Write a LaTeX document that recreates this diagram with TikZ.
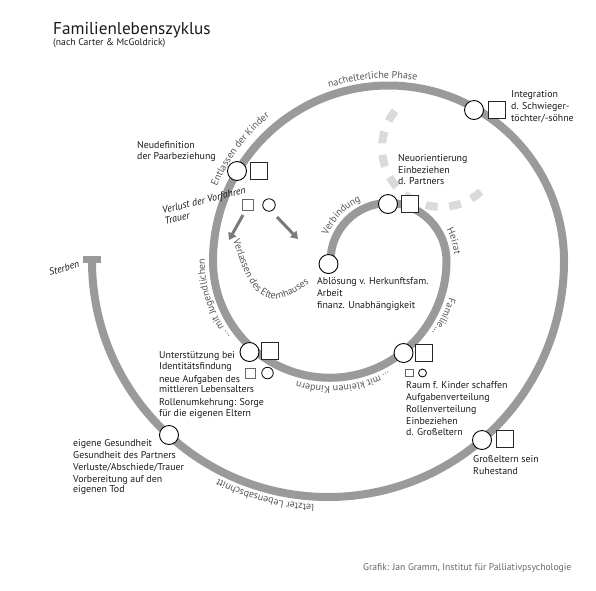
\documentclass[tikz,border=0pt]{standalone}
\usepackage{fontspec}
\setmainfont{PT Sans}
\usetikzlibrary{decorations.text,arrows.meta}
\definecolor{spiralc}{HTML}{9A9A9A}
\definecolor{dashc}{HTML}{DADADA}
\definecolor{lblc}{HTML}{555555}
\definecolor{txtc}{HTML}{1A1A1A}
\definecolor{arrc}{HTML}{7A7A7A}
\definecolor{creditc}{HTML}{666666}
\begin{document}
\begin{tikzpicture}[x=1pt,y=-1pt,
  band/.style={draw=spiralc,line width=8pt},
  dashband/.style={draw=dashc,line width=8pt,dash pattern=on 12pt off 11.5pt},
  bigc/.style={circle,draw=black,fill=white,line width=0.9pt,minimum size=19pt,inner sep=0pt},
  bigs/.style={rectangle,draw=black!85,fill=white,line width=0.9pt,minimum size=17pt,inner sep=0pt},
  smallc/.style={circle,draw=black,fill=white,line width=0.8pt,minimum size=#1,inner sep=0pt},
  smalls/.style={rectangle,draw=black!60,fill=white,line width=0.8pt,minimum size=#1,inner sep=0pt},
  info/.style={anchor=north west,align=left,inner sep=0pt,text=txtc,font=\fontsize{9.9}{10.6}\selectfont},
  italbl/.style={anchor=base west,inner sep=0pt,text=txtc,font=\itshape\fontsize{10}{11}\selectfont},
  curvelbl/.style={decorate,decoration={text along path,text align=center,text color=lblc,text={|\fontsize{10}{12}\selectfont|#1}}},
  curvelft/.style={decorate,decoration={text along path,text color=lblc,text={|\fontsize{10}{12}\selectfont|#1}}},
  grayarrow/.style={draw=arrc,line width=3pt,-{Triangle[length=7pt,width=9pt]}},
]
\useasboundingbox (0,0) rectangle (596,590);

% spiral
\draw[band] (330.5,263) -- (330.5,261) arc[start angle=180,end angle=360,radius=58]
  arc[start angle=0,end angle=180,radius=116.75]
  arc[start angle=180,end angle=360,radius=175.5]
  arc[start angle=0,end angle=180,radius=236];
\fill[spiralc] (83,255.5) rectangle (101,262.5);

% dashed alternative arc
\draw[dashband] ([shift={(219:59)}]441,148) arc[start angle=219,end angle=47.5,radius=59];

% curved labels
\path[curvelbl={nachelterliche Phase}] ([shift={(235:183)}]388.5,261) arc[start angle=235,end angle=295,radius=183];
\path[curvelbl={Entlassen der Kinder}] ([shift={(187:187)}]388.5,261) arc[start angle=187,end angle=247,radius=187];
\path[curvelbl={Verbindung}] ([shift={(179:66)}]388.5,261) arc[start angle=179,end angle=269,radius=66];
\path[curvelbl={Heirat}] ([shift={(303:66)}]388.5,261) arc[start angle=303,end angle=383,radius=66];
\path[curvelbl={Familie…}] ([shift={(-14:125)}]329.75,261) arc[start angle=-14,end angle=66,radius=125];
\path[curvelbl={… mit kleinen Kindern}] ([shift={(33.5:125)}]329.75,261) arc[start angle=33.5,end angle=133.5,radius=125];
\path[curvelbl={… mit Jugendlichen}] ([shift={(112:125)}]329.75,261) arc[start angle=112,end angle=212,radius=125];
\path[curvelbl={letzter Lebensabschnitt}] ([shift={(75:244)}]328,261) arc[start angle=75,end angle=135,radius=244];
\path[curvelft={Verlassen des Elternhauses}] (233,240) .. controls (243,270) and (250,292) .. (268,298) .. controls (283,303) and (300,291) .. (330,266);

% arrows
\coordinate (a1s) at (243,215); \coordinate (a1e) at (229,240);
\coordinate (a2s) at (277,217); \coordinate (a2e) at (298,239);
\draw[grayarrow] (a1s) -- (a1e);
\draw[grayarrow] (a2s) -- (a2e);

% markers
\node[bigc] (c0) at (328.5,264) {};
\node[bigc] (cA) at (388,204) {}; \node[bigs] (sA) at (409.5,204) {};
\node[bigc] (cB) at (403.5,353) {}; \node[bigs] (sB) at (424,353) {};
\node[smalls=7.5pt] (ssB) at (409.5,373) {}; \node[smallc=8pt] (scB) at (422.5,373) {};
\node[bigc] (cC) at (249.5,352) {}; \node[bigs] (sC) at (270,351) {};
\node[smalls=10pt] (ssC) at (250.5,373) {}; \node[smallc=11.5pt] (scC) at (267.5,373) {};
\node[bigc] (cD) at (237,171) {}; \node[bigs] (sD) at (258.5,171) {};
\node[smalls=11.5pt] (ssD) at (248,205) {}; \node[smallc=12.5pt] (scD) at (269,205) {};
\node[bigc] (cE) at (474,110) {}; \node[bigs] (sE) at (496.5,110) {};
\node[bigc] (cF) at (482,440) {}; \node[bigs] (sF) at (505,439) {};
\node[bigc] (cG) at (169,435) {};

% title
\node[anchor=base west,inner sep=0pt,text=txtc,font=\fontsize{17.2}{19}\selectfont] (title) at (53,34) {Familienlebenszyklus};
\node[anchor=base west,inner sep=0pt,text=txtc,font=\fontsize{9.7}{11}\selectfont] (subtitle) at (53,45.5) {(nach Carter \& McGoldrick)};

% info texts
\node[info] (neudef) at (137,141.5) {Neudefinition\\der Paarbeziehung};
\node[info] (integ) at (511,90.5) {Integration\\[1.4pt]d. Schwieger-\\[1.4pt]töchter/-söhne};
\node[info] (neuor) at (398,154.5) {Neuorientierung\\[1.4pt]Einbeziehen\\d. Partners};
\node[info] (abl) at (317,277.5) {Ablösung v. Herkunftsfam.\\[1.4pt]Arbeit\\[1.4pt]finanz. Unabhängigkeit};
\node[info] (unter) at (159,351.5) {Unterstützung bei\\Identitätsfindung\\[2.3pt]neue Aufgaben des\\mittleren Lebensalters\\[2.3pt]Rollenumkehrung: Sorge\\für die eigenen Eltern};
\node[info] (raum) at (406,381.5) {Raum f. Kinder schaffen\\[1.4pt]Aufgabenverteilung\\[1.4pt]Rollenverteilung\\[1.4pt]Einbeziehen\\d. Großeltern};
\node[info] (grosse) at (473,455.5) {Großeltern sein\\[1.4pt]Ruhestand};
\node[info] (eigen) at (73,439) {eigene Gesundheit\\[1.4pt]Gesundheit des Partners\\[1.4pt]Verluste/Abschiede/Trauer\\[1.4pt]Vorbereitung auf den\\eigenen Tod};

% italic labels
\node[italbl,rotate=14] (verlust) at (163,214) {Verlust der Vorfahren};
\node[italbl,rotate=14] (trauer) at (165.5,224.5) {Trauer};
\node[italbl,rotate=17] (sterben) at (50,276) {Sterben};

% credit
\node[anchor=base west,inner sep=0pt,text=creditc,font=\fontsize{9.65}{11}\selectfont] (credit) at (363,570) {Grafik: Jan Gramm, Institut für Palliativpsychologie};
\end{tikzpicture}
\end{document}
